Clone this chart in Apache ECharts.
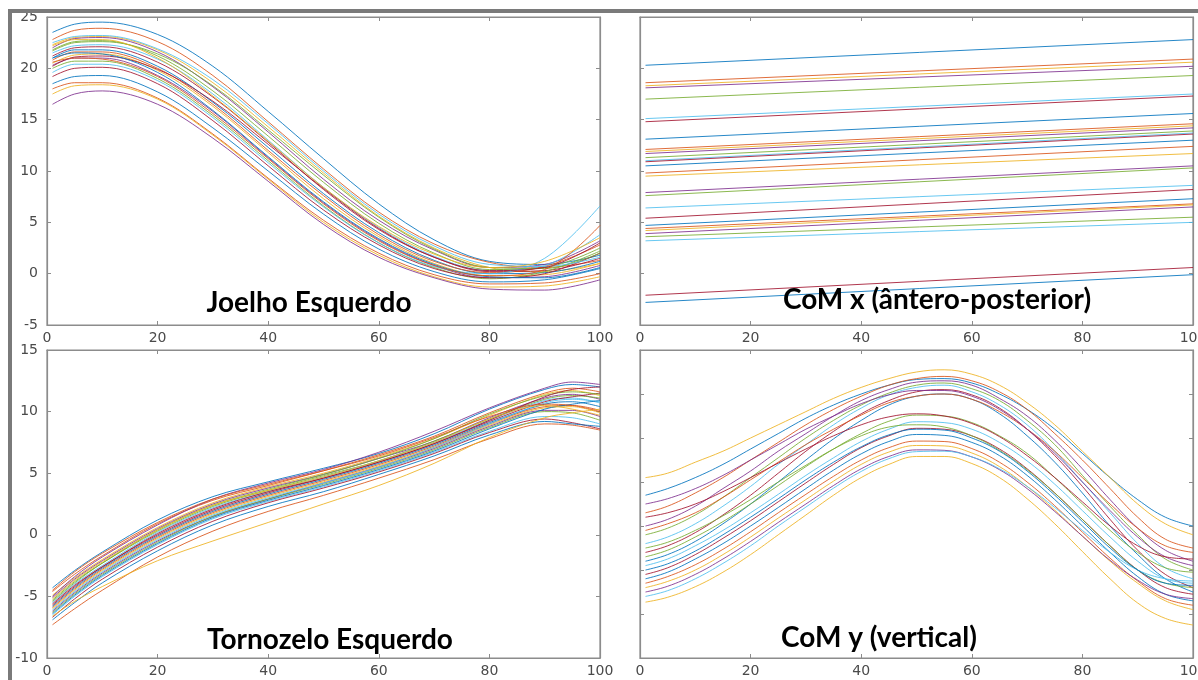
<!DOCTYPE html>
<html><head><meta charset="utf-8">
<script src="https://cdn.jsdelivr.net/npm/echarts@6/dist/echarts.min.js"></script>
<style>html,body{margin:0;padding:0;background:#fff;overflow:hidden}#c{width:1198px;height:680px}</style>
</head><body><div id="c"></div>
<script>
// ---------- DATA ----------
const xTicks = [0, 20, 40, 60, 80, 100];
const titles = ['Joelho Esquerdo', 'CoM x (ântero-posterior)', 'Tornozelo Esquerdo', 'CoM y (vertical)'];

// Knee angle (Joelho Esquerdo)
const kneeX = [1, 5, 10, 20, 30, 40, 50, 60, 70, 80, 90, 100];
const knee = [
  [23.5,24.3,24.5,23.3,20.2,15.8,11.2,6.8,3.3,1.2,0.9,1.8],
  [22.8,23.7,23.9,22.6,19.3,14.8,10.2,6.0,2.9,1.1,0.6,1.3],
  [22.3,23.0,23.1,21.8,18.6,14.3,9.8,5.6,2.5,0.6,0.2,1.0],
  [22.0,22.9,23.0,21.6,18.2,13.8,9.2,5.2,2.3,0.6,0.9,3.2],
  [21.8,22.6,22.7,21.2,17.8,13.4,8.9,4.9,2.0,0.4,0.6,2.5],
  [21.5,22.2,22.3,20.9,17.5,13.0,8.4,4.5,1.7,0.3,0.8,3.8],
  [21.2,22.0,22.1,20.6,17.2,12.8,8.2,4.3,1.6,0.2,0.3,1.5],
  [21.0,21.8,21.8,20.2,16.7,12.3,7.8,4.0,1.3,0.0,0.1,1.2],
  [20.8,21.6,21.6,20.0,16.5,12.0,7.6,3.8,1.2,0.1,0.7,2.8],
  [20.5,21.3,21.4,19.8,16.3,11.8,7.3,3.6,1.0,-0.2,-0.1,1.0],
  [20.3,21.0,21.0,19.3,15.8,11.3,6.9,3.3,0.8,-0.4,-0.3,0.8],
  [20.0,20.7,20.7,19.0,15.4,11.0,6.6,3.0,0.6,-0.5,0.2,2.2],
  [19.6,20.4,20.4,18.8,15.2,10.8,6.5,3.0,0.7,0.0,1.5,6.6],
  [19.2,20.0,20.1,18.5,14.9,10.5,6.2,2.8,0.5,-0.4,0.0,2.0],
  [18.5,19.2,19.3,17.7,14.2,10.0,5.8,2.4,0.2,-0.8,-0.6,0.5],
  [18.0,18.6,18.6,17.1,13.6,9.3,5.2,2.0,-0.1,-1.0,-0.9,0.0],
  [17.5,18.3,18.4,17.0,13.5,9.2,5.0,1.8,-0.3,-1.3,-1.2,-0.3],
  [16.5,17.5,17.8,16.5,13.2,9.0,4.8,1.6,-0.4,-1.5,-1.6,-0.6],
  [21.7,22.5,22.6,21.4,18.3,14.0,9.6,5.5,2.4,0.6,0.5,2.0],
  [22.5,23.1,23.2,21.9,18.9,14.6,10.0,5.8,2.7,0.9,0.7,1.6],
  [20.2,21.1,21.2,19.9,16.8,12.6,8.3,4.4,1.6,0.3,0.6,3.0],
  [21.0,21.5,21.4,19.6,15.9,11.4,7.0,3.4,0.9,-0.3,-0.4,0.6],
  [20.6,21.0,20.9,19.2,15.6,11.2,6.8,3.2,0.8,-0.2,0.4,4.7],
  [22.2,22.8,22.8,21.0,17.3,12.9,8.4,4.6,1.9,0.6,1.2,3.5]
];

// CoM x (ântero-posterior): straight lines, start and end values
const comxX = [1, 100];
const comx = [
  [25.3,27.8],[23.6,25.9],[23.3,25.6],[23.1,25.2],[22.0,24.3],[20.1,22.5],[19.8,22.3],
  [18.1,20.6],[17.1,19.6],[16.9,19.4],[16.7,19.2],[16.3,18.9],[16.0,18.7],[15.9,18.6],
  [15.5,18.0],[14.8,17.4],[14.5,16.7],[12.9,15.5],[12.6,15.3],[11.4,13.6],[10.4,13.2],
  [9.7,12.3],[9.4,11.8],[9.2,11.7],[8.9,11.5],[8.6,10.5],[8.2,10.0],[2.9,5.6],[2.2,4.9]
];

// Ankle angle (Tornozelo Esquerdo)
const ankleX = [1, 5, 10, 20, 30, 40, 50, 60, 70, 80, 90, 95, 100];
const ankle = [
  [-4.3,-2.9,-1.4,1.2,3.1,4.3,5.4,6.6,8.2,10.2,11.8,12.2,12.0],
  [-4.6,-3.2,-1.7,0.9,2.8,4.0,5.2,6.5,8.0,9.9,11.5,11.9,11.6],
  [-4.9,-3.5,-2.0,0.6,2.6,3.9,5.0,6.3,7.8,9.7,11.4,11.7,11.3],
  [-5.1,-3.6,-2.1,0.5,2.5,3.8,4.9,6.2,7.6,9.5,11.1,11.4,11.0],
  [-5.3,-3.8,-2.3,0.3,2.3,3.6,4.8,6.0,7.6,9.4,11.0,11.3,11.1],
  [-5.5,-4.0,-2.5,0.2,2.2,3.5,4.7,6.0,7.5,9.3,10.9,11.1,10.7],
  [-5.6,-4.1,-2.6,0.1,2.1,3.5,4.6,5.9,7.4,9.2,10.8,11.2,11.5],
  [-5.8,-4.3,-2.7,-0.1,1.9,3.3,4.5,5.8,7.3,9.1,10.6,10.8,10.4],
  [-5.9,-4.4,-2.8,-0.2,1.8,3.2,4.4,5.7,7.2,9.0,10.4,10.5,10.1],
  [-6.0,-4.5,-2.9,-0.3,1.7,3.1,4.3,5.6,7.1,8.9,10.3,10.4,9.9],
  [-6.2,-4.7,-3.1,-0.5,1.5,2.9,4.2,5.5,7.0,8.8,10.1,10.1,9.6],
  [-6.3,-4.8,-3.2,-0.6,1.5,2.9,4.1,5.4,6.9,8.7,10.0,9.9,9.3],
  [-6.5,-5.0,-3.4,-0.8,1.3,2.7,3.9,5.2,6.7,8.4,9.6,9.5,9.0],
  [-6.7,-5.2,-3.6,-1.0,1.1,2.6,3.8,5.1,6.6,8.3,9.4,9.1,8.6],
  [-6.9,-5.5,-3.9,-1.3,0.8,2.3,3.5,4.9,6.4,8.1,9.2,9.0,8.8],
  [-7.3,-6.0,-4.5,-1.8,0.3,1.9,3.2,4.6,6.1,7.8,9.0,8.9,8.5],
  [-6.6,-5.4,-4.2,-2.1,-0.5,1.0,2.5,4.0,5.8,7.9,9.5,9.9,10.2],
  [-5.0,-3.4,-1.8,0.8,2.9,4.2,5.3,6.7,8.4,10.3,11.9,12.4,12.2],
  [-5.4,-3.9,-2.3,0.4,2.4,3.7,4.9,6.2,7.8,9.8,11.3,11.6,11.4],
  [-6.1,-4.6,-3.0,-0.4,1.6,3.0,4.2,5.5,7.1,9.0,10.7,11.0,10.8],
  [-5.7,-4.2,-2.6,0.0,2.0,3.4,4.6,5.9,7.4,9.3,11.2,11.8,12.0],
  [-6.4,-4.9,-3.3,-0.7,1.4,2.8,4.0,5.3,6.8,8.6,10.2,10.6,10.9],
  [-4.5,-3.0,-1.5,1.0,2.9,4.1,5.2,6.4,7.9,9.6,10.6,10.5,10.0],
  [-5.2,-3.7,-2.2,0.4,2.4,3.6,4.7,6.0,7.5,9.4,10.5,10.2,9.7]
];

// CoM y (vertical)
const comyX = [1,5,10,15,20,25,30,35,40,45,50,55,60,65,70,75,80,85,90,95,100];
const comy = [
  [3.7,3.85,4.1,4.4,4.75,5.1,5.45,5.75,6.0,6.2,6.33,6.35,6.25,6.0,5.65,5.2,4.65,4.1,3.6,3.2,3.0],
  [3.3,3.45,3.75,4.1,4.5,4.9,5.3,5.65,5.95,6.2,6.35,6.4,6.3,6.05,5.65,5.1,4.5,3.85,3.2,2.7,2.5],
  [4.1,4.2,4.45,4.7,5.0,5.3,5.6,5.9,6.15,6.35,6.5,6.55,6.45,6.2,5.8,5.3,4.7,4.1,3.5,3.05,2.8],
  [3.0,3.15,3.45,3.85,4.25,4.7,5.1,5.5,5.85,6.1,6.27,6.3,6.2,5.9,5.5,4.95,4.3,3.6,2.95,2.45,2.2],
  [2.8,2.95,3.25,3.65,4.1,4.55,5.0,5.4,5.75,6.02,6.2,6.25,6.12,5.85,5.4,4.85,4.15,3.45,2.8,2.25,2.0],
  [2.6,2.75,3.05,3.45,3.9,4.4,4.85,5.3,5.68,5.98,6.15,6.2,6.05,5.75,5.3,4.7,4.0,3.3,2.6,2.05,1.8],
  [2.4,2.55,2.85,3.25,3.7,4.2,4.7,5.15,5.55,5.85,6.05,6.1,5.98,5.68,5.2,4.6,3.9,3.15,2.45,1.9,1.6],
  [2.2,2.35,2.65,3.05,3.5,4.0,4.5,4.98,5.4,5.75,5.95,6.0,5.88,5.55,5.05,4.45,3.75,3.0,2.35,1.8,1.5],
  [2.9,3.05,3.3,3.65,4.05,4.45,4.85,5.2,5.52,5.8,5.95,6.0,5.88,5.6,5.2,4.7,4.1,3.5,2.95,2.55,2.4],
  [1.27,1.38,1.62,1.95,2.35,2.8,3.25,3.7,4.1,4.4,4.58,4.58,4.42,4.1,3.62,3.05,2.42,1.8,1.25,0.9,0.75],
  [3.5,3.62,3.85,4.15,4.5,4.85,5.2,5.5,5.78,5.98,6.08,6.08,5.95,5.65,5.2,4.65,4.0,3.35,2.75,2.3,2.1],
  [2.3,2.45,2.75,3.1,3.5,3.92,4.35,4.75,5.1,5.38,5.52,5.5,5.35,5.05,4.65,4.1,3.5,2.9,2.4,2.05,1.95],
  [2.1,2.25,2.55,2.9,3.3,3.72,4.15,4.55,4.92,5.2,5.37,5.35,5.2,4.9,4.48,3.95,3.35,2.75,2.2,1.8,1.7],
  [1.9,2.05,2.35,2.72,3.12,3.55,3.98,4.4,4.78,5.05,5.22,5.2,5.05,4.75,4.3,3.75,3.15,2.55,2.0,1.6,1.45],
  [1.8,1.95,2.25,2.6,3.0,3.42,3.85,4.27,4.64,4.92,5.08,5.06,4.9,4.6,4.15,3.6,3.0,2.4,1.85,1.45,1.3],
  [1.7,1.85,2.12,2.47,2.87,3.3,3.72,4.13,4.5,4.78,4.93,4.92,4.76,4.45,4.0,3.46,2.86,2.27,1.75,1.35,1.2],
  [1.6,1.74,2.0,2.35,2.75,3.18,3.6,4.02,4.4,4.68,4.83,4.82,4.66,4.35,3.9,3.36,2.77,2.2,1.7,1.3,1.1],
  [1.5,1.63,1.9,2.25,2.65,3.08,3.5,3.92,4.3,4.58,4.73,4.72,4.57,4.28,3.85,3.33,2.77,2.22,1.77,1.45,1.35],
  [2.5,2.63,2.9,3.23,3.6,4.0,4.38,4.75,5.05,5.25,5.3,5.25,5.05,4.72,4.28,3.75,3.15,2.55,2.0,1.7,1.6],
  [1.4,1.53,1.8,2.15,2.55,3.0,3.43,3.86,4.24,4.53,4.69,4.7,4.57,4.3,3.9,3.42,2.9,2.4,2.0,1.8,1.75],
  [3.2,3.3,3.5,3.78,4.1,4.43,4.75,5.05,5.3,5.48,5.55,5.5,5.33,5.03,4.6,4.1,3.55,3.0,2.55,2.3,2.25],
  [2.0,2.14,2.43,2.8,3.2,3.62,4.05,4.45,4.8,5.07,5.2,5.18,5.0,4.7,4.25,3.7,3.1,2.5,2.0,1.7,1.65]
];

// ---------- CHART ----------
const palette = ['#0072BD','#D95319','#EDB120','#7E2F8E','#77AC30','#4DBEEE','#A2142F'];
const panels = [
  {grid:{left:47, top:17, width:553, height:308}, y:{min:-5, max:25, interval:5}, labels:true, X:kneeX, D:knee, smooth:0.35, title:{x:309, y:303}},
  {grid:{left:640, top:17, width:553, height:308}, y:{min:0, max:30, interval:5}, labels:false, X:comxX, D:comx, smooth:false, title:{x:937, y:300}},
  {grid:{left:47, top:350, width:553, height:308}, y:{min:-10, max:15, interval:5}, labels:true, X:ankleX, D:ankle, smooth:0.35, title:{x:330, y:640}},
  {grid:{left:640, top:350, width:553, height:308}, y:{min:0, max:7, interval:1}, labels:false, X:comyX, D:comy, smooth:0.4, title:{x:879, y:638}}
];
const axCol = '#8c8c8c';
const lblStyle = {color:'#4a4a4a', fontFamily:'DejaVu Sans', fontSize:14};
const grid = [], xAxis = [], yAxis = [], series = [];
panels.forEach((p, i) => {
  grid.push(Object.assign({show:true, borderColor:axCol, borderWidth:1.2, backgroundColor:'#fff',
    containLabel:false, outerBoundsMode:'none'}, p.grid));
  const common = {axisLine:{show:true, onZero:false, lineStyle:{color:axCol, width:1.2}},
                  axisTick:{show:true, inside:true, length:4, lineStyle:{color:axCol, width:1}},
                  splitLine:{show:false}};
  xAxis.push(Object.assign({type:'value', gridIndex:i, position:'bottom', min:0, max:100, interval:20,
    axisLabel:Object.assign({show:true, margin:6, showMaxLabel:true, hideOverlap:false}, lblStyle)}, common));
  xAxis.push(Object.assign({type:'value', gridIndex:i, position:'top', min:0, max:100, interval:20,
    axisLabel:{show:false}}, common));
  yAxis.push(Object.assign({type:'value', gridIndex:i, position:'left', min:p.y.min, max:p.y.max, interval:p.y.interval,
    axisLabel:Object.assign({show:p.labels, margin:9}, lblStyle)}, common));
  yAxis.push(Object.assign({type:'value', gridIndex:i, position:'right', min:p.y.min, max:p.y.max, interval:p.y.interval,
    axisLabel:{show:false}}, common));
  p.D.forEach((ys, k) => {
    series.push({type:'line', xAxisIndex:2*i, yAxisIndex:2*i, silent:true, showSymbol:false,
      smooth:p.smooth, data:p.X.map((x, j) => [x, ys[j]]),
      lineStyle:{width:1, color:palette[k % palette.length], opacity:0.85}});
  });
});
const graphic = [
  {type:'rect', left:8, top:9, shape:{width:1190, height:4}, style:{fill:'#7a7a7a'}, z:100},
  {type:'rect', left:8, top:9, shape:{width:4, height:671}, style:{fill:'#7a7a7a'}, z:100}
];
panels.forEach((p, i) => {
  graphic.push({type:'text', x:p.title.x, y:p.title.y, z:100,
    style:{text:titles[i], fill:'#000', font:'bold 28px Lato', textAlign:'center', textVerticalAlign:'middle', verticalAlign:'middle'}});
});
const chart = echarts.init(document.getElementById('c'), null, {renderer:'canvas'});
chart.setOption({animation:false, backgroundColor:'#fff', grid, xAxis, yAxis, series, graphic});
</script></body></html>
